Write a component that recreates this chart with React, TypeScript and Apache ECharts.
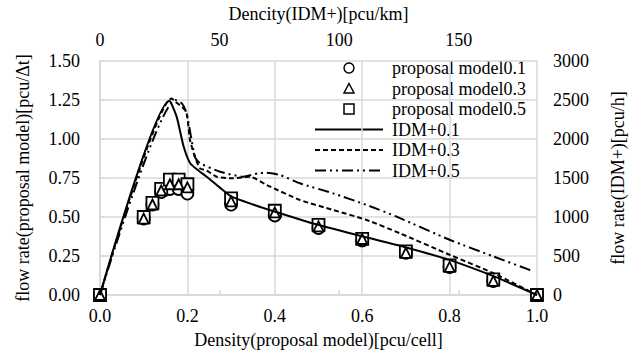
import React, { useEffect, useRef } from "react";
import * as echarts from "echarts";

// Proposal model: density [pcu/cell] vs flow [pcu/Δt]
const densityCells = [0, 0.1, 0.12, 0.14, 0.16, 0.18, 0.2, 0.3, 0.4, 0.5, 0.6, 0.7, 0.8, 0.9, 1.0];
const proposal01 = [0, 0.49, 0.58, 0.66, 0.68, 0.68, 0.65, 0.58, 0.51, 0.43, 0.35, 0.27, 0.18, 0.09, 0];
const proposal03 = [0, 0.49, 0.58, 0.67, 0.71, 0.71, 0.69, 0.6, 0.53, 0.44, 0.36, 0.27, 0.18, 0.09, 0];
const proposal05 = [0, 0.5, 0.59, 0.68, 0.74, 0.74, 0.71, 0.62, 0.54, 0.45, 0.36, 0.28, 0.19, 0.1, 0];

// IDM+: density [pcu/km] vs flow [pcu/h]
const idm01Density = [0, 29, 32, 35, 37.7, 41.8, 44.6, 50, 55, 64, 73, 91, 110, 128, 146, 165, 182.7];
const idm01Flow = [0, 2490, 2290, 1900, 1690, 1580, 1517, 1380, 1260, 1160, 1070, 900, 750, 610, 450, 235, 0];
const idm03Density = [0, 30, 31.5, 36, 37.6, 39.7, 41.8, 44.6, 48.8, 55.7, 62.7, 69.7, 83.6, 97.5, 111.5, 125.4, 146.4, 164.6, 182.7];
const idm03Flow = [0, 2520, 2480, 2350, 1990, 1770, 1624, 1595, 1517, 1496, 1517, 1410, 1218, 1090, 962, 791, 513, 278, 0];
const idm05Density = [0, 31.5, 34.2, 36.2, 39.7, 41.8, 50.2, 59.9, 66, 69.7, 75.3, 83.6, 97.5, 111.5, 124, 146.4, 164, 181.5];
const idm05Flow = [0, 2500, 2457, 2330, 1770, 1690, 1581, 1517, 1560, 1568, 1538, 1432, 1303, 1154, 1004, 705, 500, 300];

const seriesNames = [
  "proposal model0.1",
  "proposal model0.3",
  "proposal model0.5",
  "IDM+0.1",
  "IDM+0.3",
  "IDM+0.5",
];

const leftTicks = { min: 0, max: 1.5, interval: 0.25 };
const rightTicks = { min: 0, max: 3000, interval: 500 };
const bottomTicks = { min: 0, max: 1, interval: 0.2 };
const topTicks = { min: 0, max: 182.7, interval: 50 };

const FONT = "'Liberation Serif', 'Times New Roman', serif";
const GRID = "#d9d9d9";
const DASH: number[] = [5, 3];
const DASH_DOT_DOT: number[] = [11, 4, 2, 4, 2, 4];

function zip(xs: number[], ys: number[]) {
  return xs.map((x, i) => [x, ys[i]]);
}

function legendGraphic() {
  const left = 315;
  const iconW = 68;
  const cx = left + iconW / 2;
  const textX = 392;
  const top = 68;
  const step = 20.5;
  const symStyle = { fill: "#fff", stroke: "#000", lineWidth: 1.5 };
  const els: any[] = [];
  seriesNames.forEach((name, i) => {
    const cy = top + i * step;
    if (i === 0) {
      els.push({ type: "circle", shape: { cx, cy, r: 5 }, style: symStyle });
    } else if (i === 1) {
      els.push({
        type: "polygon",
        shape: { points: [[cx, cy - 5], [cx + 5, cy + 4.5], [cx - 5, cy + 4.5]] },
        style: symStyle,
      });
    } else if (i === 2) {
      els.push({ type: "rect", shape: { x: cx - 5, y: cy - 5, width: 10, height: 10 }, style: symStyle });
    } else {
      const dash = i === 3 ? null : i === 4 ? DASH : DASH_DOT_DOT;
      els.push({
        type: "line",
        shape: { x1: left, y1: cy, x2: left + iconW, y2: cy },
        style: { stroke: "#000", lineWidth: 2, lineDash: dash },
      });
    }
    els.push({
      type: "text",
      x: textX,
      y: cy,
      style: { text: name, font: `18px ${FONT}`, fill: "#000", textVerticalAlign: "middle", verticalAlign: "middle" },
    });
  });
  return els;
}

export default function App() {
  const ref = useRef<HTMLDivElement>(null);
  useEffect(() => {
    document.body.style.margin = "0";
    if (!ref.current) return;
    const chart = echarts.init(ref.current, null, { renderer: "svg" });
    const txt = { fontFamily: FONT, fontSize: 18, color: "#000" };
    const scatter = (name: string, data: number[], symbol: string, size: number, z: number) => ({
      name,
      type: "scatter",
      xAxisIndex: 0,
      yAxisIndex: 0,
      data: zip(densityCells, data),
      symbol,
      symbolSize: size,
      z,
      itemStyle: { color: "#fff", borderColor: "#000", borderWidth: 1.8, opacity: 1 },
    });
    const line = (name: string, xs: number[], ys: number[], type: any, width: number) => ({
      name,
      type: "line",
      xAxisIndex: 1,
      yAxisIndex: 1,
      data: zip(xs, ys),
      symbol: "none",
      showSymbol: false,
      smooth: 0.2,
      z: 5,
      lineStyle: { color: "#000", width, type },
      itemStyle: { color: "#000" },
    });
    chart.setOption({
      animation: false,
      grid: { left: 100, right: 100, top: 61, bottom: 61, containLabel: false },
      graphic: legendGraphic(),
      xAxis: [
        {
          type: "value",
          position: "bottom",
          ...bottomTicks,
          name: "Density(proposal model)[pcu/cell]",
          nameLocation: "middle",
          nameGap: 36,
          nameTextStyle: txt,
          axisLabel: { ...txt, margin: 12, formatter: (v: number) => v.toFixed(1) },
          axisLine: { show: true, lineStyle: { color: GRID, width: 1.5 } },
          axisTick: { show: false },
          splitLine: { show: true, lineStyle: { color: GRID, width: 1.5 } },
        },
        {
          type: "value",
          position: "top",
          ...topTicks,
          name: "Dencity(IDM+)[pcu/km]",
          nameLocation: "middle",
          nameGap: 38,
          nameTextStyle: txt,
          axisLabel: { ...txt, margin: 12, showMaxLabel: false },
          axisLine: { show: true, lineStyle: { color: GRID, width: 1.5 } },
          axisTick: { show: true, length: 5, lineStyle: { color: GRID, width: 1.5 } },
          splitLine: { show: false },
        },
      ],
      yAxis: [
        {
          type: "value",
          position: "left",
          ...leftTicks,
          name: "flow rate(proposal model)[pcu/Δt]",
          nameLocation: "middle",
          nameGap: 68,
          nameTextStyle: txt,
          axisLabel: { ...txt, margin: 20, formatter: (v: number) => v.toFixed(2) },
          axisLine: { show: true, lineStyle: { color: GRID, width: 1.5 } },
          axisTick: { show: false },
          splitLine: { show: true, lineStyle: { color: GRID, width: 1.5 } },
        },
        {
          type: "value",
          position: "right",
          ...rightTicks,
          name: "flow rate(IDM+)[pcu/h]",
          nameLocation: "middle",
          nameGap: 72,
          nameTextStyle: txt,
          axisLabel: { ...txt, margin: 16, formatter: (v: number) => String(v) },
          axisLine: { show: true, lineStyle: { color: GRID, width: 1.5 } },
          axisTick: { show: true, length: 5, lineStyle: { color: GRID, width: 1.5 } },
          splitLine: { show: false },
        },
      ],
      series: [
        scatter(seriesNames[0], proposal01, "circle", 12, 2),
        scatter(seriesNames[1], proposal03, "triangle", 10, 4),
        scatter(seriesNames[2], proposal05, "rect", 12, 3),
        line(seriesNames[3], idm01Density, idm01Flow, "solid", 2),
        line(seriesNames[4], idm03Density, idm03Flow, DASH, 2),
        line(seriesNames[5], idm05Density, idm05Flow, DASH_DOT_DOT, 2),
      ],
    });
    return () => chart.dispose();
  }, []);
  return <div ref={ref} style={{ width: 637, height: 356 }} />;
}
